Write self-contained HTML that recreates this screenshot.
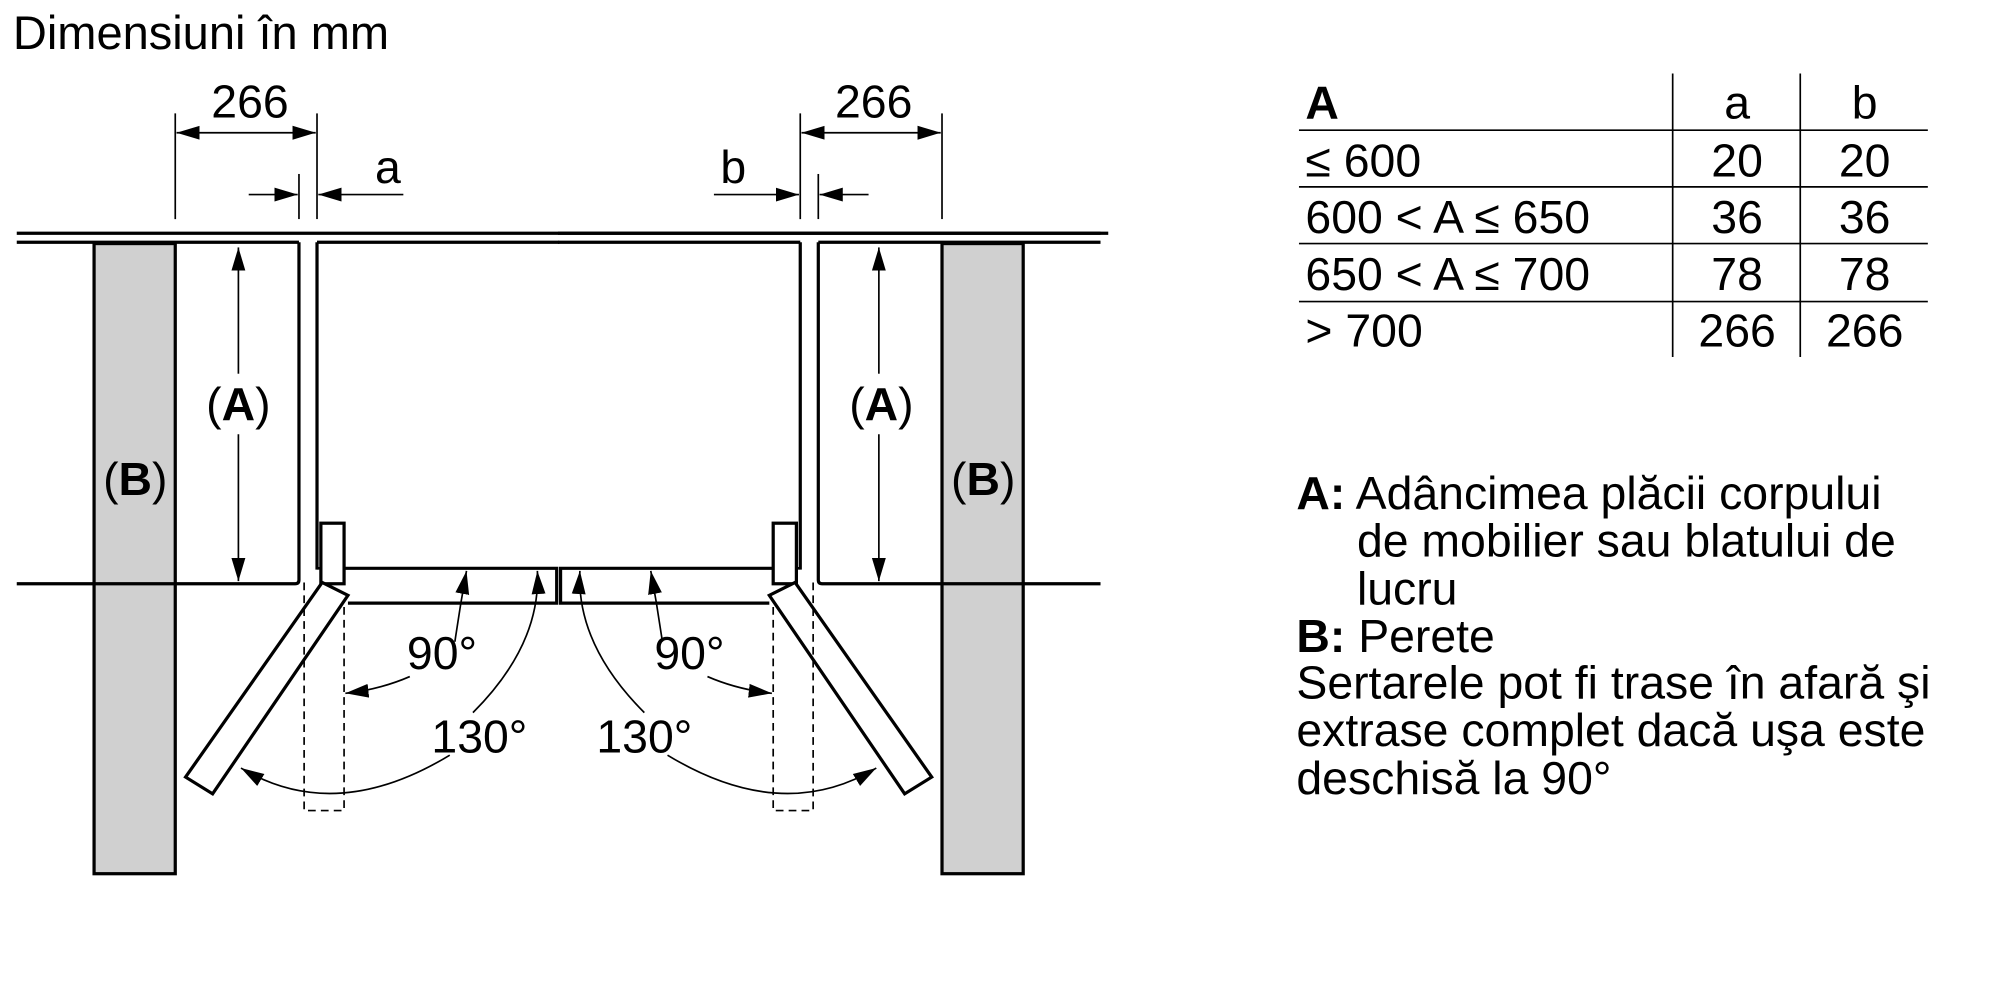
<!DOCTYPE html>
<html><head><meta charset="utf-8"><style>
html,body{margin:0;padding:0;background:#fff;}
svg{display:block;}
text{font-family:"Liberation Sans",sans-serif;fill:#000;}
</style></head><body>
<svg width="2000" height="1000" viewBox="0 0 1552 776" xmlns="http://www.w3.org/2000/svg">
<defs>
<marker id="ar" viewBox="0 0 10 10" refX="10" refY="5" markerWidth="18" markerHeight="18" markerUnits="userSpaceOnUse" orient="auto-start-reverse"><path d="M0,2 L10,5 L0,8 Z" fill="#000"/></marker>
</defs>
<rect width="1552" height="776" fill="#fff"/>
<text x="10" y="38" font-size="36.5">Dimensiuni în mm</text>

<g id="half" fill="none" stroke="#000">
  <line x1="13" y1="181" x2="434" y2="181" stroke-width="2.5"/>
  <line x1="13" y1="188" x2="232" y2="188" stroke-width="2.5"/>
  <line x1="246" y1="188" x2="434" y2="188" stroke-width="2.5"/>
  <rect x="73" y="189" width="63" height="489" fill="#d0d0d0" stroke-width="2.5"/>
  <path d="M13,453 L229,453 Q232,453 232,450 L232,188" stroke-width="2.5"/>
  <line x1="246" y1="188" x2="246" y2="442" stroke-width="2.5"/>
  <rect x="249" y="406" width="18" height="47" fill="#fff" stroke-width="2.5"/>
  <path d="M267,441 L432,441 L432,468 L270,468" stroke-width="2.5"/>
  <line x1="246" y1="441" x2="249" y2="441" stroke-width="2"/>
  <path d="M250,452 L270,462 L165,616 L144,603 Z" fill="#fff" stroke-width="2.5"/>
  <path d="M236,452 L236,629 L267,629 L267,468" stroke-width="1.3" stroke-dasharray="6,4"/>
  <line x1="185" y1="192" x2="185" y2="290" stroke-width="1.3" marker-start="url(#ar)"/>
  <line x1="185" y1="337" x2="185" y2="451" stroke-width="1.3" marker-end="url(#ar)"/>
  <line x1="136" y1="88" x2="136" y2="170" stroke-width="1.3"/>
  <line x1="246" y1="88" x2="246" y2="170" stroke-width="1.3"/>
  <line x1="137" y1="103" x2="245" y2="103" stroke-width="1.3" marker-start="url(#ar)" marker-end="url(#ar)"/>
  <line x1="232" y1="135" x2="232" y2="170" stroke-width="1.3"/>
  <line x1="193" y1="151" x2="231" y2="151" stroke-width="1.3" marker-end="url(#ar)"/>
  <line x1="313" y1="151" x2="247" y2="151" stroke-width="1.3" marker-end="url(#ar)"/>
  <path d="M353,498 Q357,470 362,443" stroke-width="1.3" marker-end="url(#ar)"/>
  <path d="M318,525 Q295,535 268,538" stroke-width="1.3" marker-end="url(#ar)"/>
  <path d="M367,553 Q420,500 417,443" stroke-width="1.3" marker-end="url(#ar)"/>
  <path d="M349,586 Q260,640 187,596" stroke-width="1.3" marker-end="url(#ar)"/>
</g>
<use href="#half" transform="translate(867,0) scale(-1,1)"/>
<line x1="434" y1="181" x2="860" y2="181" stroke="#000" stroke-width="2.5"/>

<g font-size="36" text-anchor="middle">
<text x="185" y="326">(<tspan font-weight="bold">A</tspan>)</text>
<text x="684" y="326">(<tspan font-weight="bold">A</tspan>)</text>
<text x="105" y="384">(<tspan font-weight="bold">B</tspan>)</text>
<text x="763" y="384">(<tspan font-weight="bold">B</tspan>)</text>
<text x="194" y="91">266</text>
<text x="678" y="91">266</text>
<text x="301" y="142">a</text>
<text x="569" y="142">b</text>
<text x="343" y="519">90°</text>
<text x="535" y="519">90°</text>
<text x="372" y="584">130°</text>
<text x="500" y="584">130°</text>
</g>

<g stroke="#000" stroke-width="1.3">
<line x1="1008" y1="101" x2="1496" y2="101"/>
<line x1="1008" y1="145" x2="1496" y2="145"/>
<line x1="1008" y1="189" x2="1496" y2="189"/>
<line x1="1008" y1="234" x2="1496" y2="234"/>
<line x1="1298" y1="57" x2="1298" y2="277"/>
<line x1="1397" y1="57" x2="1397" y2="277"/>
</g>
<g font-size="36">
<text x="1013" y="92" font-weight="bold">A</text>
<text x="1013" y="137">≤ 600</text>
<text x="1013" y="181">600 &lt; A ≤ 650</text>
<text x="1013" y="225">650 &lt; A ≤ 700</text>
<text x="1013" y="269">&gt; 700</text>
<g text-anchor="middle">
<text x="1348" y="92">a</text><text x="1447" y="92">b</text>
<text x="1348" y="137">20</text><text x="1447" y="137">20</text>
<text x="1348" y="181">36</text><text x="1447" y="181">36</text>
<text x="1348" y="225">78</text><text x="1447" y="225">78</text>
<text x="1348" y="269">266</text><text x="1447" y="269">266</text>
</g>
<text x="1006" y="395"><tspan font-weight="bold">A:</tspan> Adâncimea plăcii corpului</text>
<text x="1053" y="432">de mobilier sau blatului de</text>
<text x="1053" y="469">lucru</text>
<text x="1006" y="506"><tspan font-weight="bold">B:</tspan> Perete</text>
<text x="1006" y="542">Sertarele pot fi trase în afară şi</text>
<text x="1006" y="579">extrase complet dacă uşa este</text>
<text x="1006" y="616">deschisă la 90°</text>
</g>
</svg>
</body></html>
